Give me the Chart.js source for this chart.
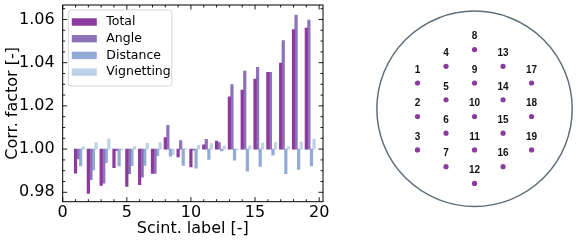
<!DOCTYPE html>
<html>
<head>
<meta charset="utf-8">
<script src="https://cdn.jsdelivr.net/npm/chart.js@4.4.1/dist/chart.umd.min.js"></script>
<style>
  html, body { margin: 0; padding: 0; background: #fff; }
  #wrap { position: relative; width: 582px; height: 244px; }
  #barBox { position: absolute; left: 0; top: 0; width: 340px; height: 244px; }
  #mapBox { position: absolute; left: 340px; top: 0; width: 242px; height: 244px; }
</style>
</head>
<body>
<div id="wrap">
  <div id="barBox"><canvas id="corrChart"></canvas></div>
  <div id="mapBox"><canvas id="mapChart"></canvas></div>
</div>
<script>
// scintillator labels 1..19
const scintLabels = [1, 2, 3, 4, 5, 6, 7, 8, 9, 10, 11, 12, 13, 14, 15, 16, 17, 18, 19];

// correction factors
const totalVals = [0.9888, 0.9795, 0.9832, 0.9914, 0.9827, 0.9835, 0.9887, 1.0053, 0.9964, 0.9918,
  1.0020, 1.0037, 1.0242, 1.0273, 1.0324, 1.0355, 1.0398, 1.0553, 1.0560];
const angleVals = [0.9955, 0.9858, 0.9842, 0.9993, 0.9886, 0.9870, 0.9887, 1.0110, 1.0039, 0.9995,
  1.0045, 1.0030, 1.0299, 1.0361, 1.0378, 1.0355, 1.0502, 1.0620, 1.0597];
const distanceVals = [0.9922, 0.9904, 0.9937, 0.9922, 0.9923, 0.9925, 0.9970, 0.9967, 0.9924, 0.9912,
  0.9952, 0.9992, 0.9949, 0.9898, 0.9920, 0.9972, 0.9886, 0.9906, 0.9922];
const vignettingVals = [1.0010, 1.0030, 1.0048, 0.9995, 1.0012, 1.0027, 1.0030, 0.9974, 1.0002, 1.0017,
  1.0026, 1.0015, 0.9997, 1.0015, 1.0029, 1.0030, 1.0012, 1.0033, 1.0046];

const seriesNames = ["Total", "Angle", "Distance", "Vignetting"];
const xTickVals = [0, 5, 10, 15, 20];
const yTickVals = [0.98, 1.00, 1.02, 1.04, 1.06];

// position of each scintillator on the sensor (column, row)
const scintCol = [-2, -2, -2, -1, -1, -1, -1, 0, 0, 0, 0, 0, 1, 1, 1, 1, 2, 2, 2];
const scintRow = [2, 0, -2, 3, 1, -1, -3, 4, 2, 0, -2, -4, 3, 1, -1, -3, 2, 0, -2];

const barColors = ["#8c3a9d", "#8d74b8", "#93aad6", "#bfd1e8"];
const barShift = 0.2; // each series shifted by one bar width

Chart.defaults.font.family = "'DejaVu Sans', sans-serif";
Chart.defaults.font.size = 16;
Chart.defaults.color = "#000";

let makeSeries = (vals, k) => {
  return vals.map((v, i) => ({ x: scintLabels[i] + k * barShift, y: v }));
};

// ticks pointing inwards on all four sides + frame
const innerTicks = {
  id: "innerTicks",
  afterDraw(chart) {
    const ctx = chart.ctx;
    const a = chart.chartArea;
    const xs = chart.scales.x;
    const ys = chart.scales.y;
    ctx.save();
    ctx.strokeStyle = "#000";
    ctx.lineWidth = 0.9;
    let line = (x1, y1, x2, y2) => {
      ctx.beginPath();
      ctx.moveTo(x1, y1);
      ctx.lineTo(x2, y2);
      ctx.stroke();
    };
    for (let v = 0; v <= xs.max + 1e-9; v += 1) {
      const p = xs.getPixelForValue(v);
      const len = v % 5 === 0 ? 4.5 : 2.5;
      line(p, a.bottom, p, a.bottom - len);
      line(p, a.top, p, a.top + len);
    }
    for (let k = Math.ceil(ys.min / 0.005); k * 0.005 <= ys.max; k++) {
      const p = ys.getPixelForValue(k * 0.005);
      const len = k % 4 === 0 ? 4.5 : 2.5;
      line(a.left, p, a.left + len, p);
      line(a.right, p, a.right - len, p);
    }
    ctx.lineWidth = 1;
    ctx.strokeRect(a.left, a.top, a.width, a.height);
    ctx.restore();
  },
};

// matplotlib style legend box in the upper left corner
const boxLegend = {
  id: "boxLegend",
  afterDatasetsDraw(chart) {
    const ctx = chart.ctx;
    const a = chart.chartArea;
    const x0 = a.left + 5.6;
    const y0 = a.top + 5;
    const rowH = 16.7;
    ctx.save();
    ctx.beginPath();
    ctx.roundRect(x0, y0, 103.5, 76, 3);
    ctx.fillStyle = "rgba(255,255,255,0.8)";
    ctx.fill();
    ctx.strokeStyle = "#d4d4d4";
    ctx.lineWidth = 1;
    ctx.stroke();
    ctx.font = "12.5px 'DejaVu Sans'";
    ctx.textBaseline = "middle";
    chart.data.datasets.forEach((ds, i) => {
      const cy = y0 + 12 + i * rowH;
      ctx.fillStyle = ds.backgroundColor;
      ctx.fillRect(x0 + 3.5, cy - 3.7, 25, 7.4);
      ctx.fillStyle = "#000";
      ctx.fillText(ds.label, x0 + 38, cy);
    });
    ctx.restore();
  },
};

let corrChart = () => {
  const allVals = [totalVals, angleVals, distanceVals, vignettingVals];
  new Chart("corrChart", {
    type: "bar",
    data: {
      datasets: allVals.map((vals, k) => ({
        label: seriesNames[k],
        data: makeSeries(vals, k),
        backgroundColor: barColors[k],
        borderWidth: 0,
        base: 1,
        grouped: false,
        barPercentage: 1,
        categoryPercentage: 1,
      })),
    },
    options: {
      responsive: true,
      maintainAspectRatio: false,
      animation: false,
      layout: { padding: { top: 5, right: 17, left: 0, bottom: 0 } },
      plugins: { legend: { display: false }, tooltip: { enabled: false } },
      scales: {
        x: {
          type: "linear",
          min: 0,
          max: 20.3,
          offset: false,
          grid: { display: false, drawTicks: false },
          border: { display: false },
          afterBuildTicks: (scale) => {
            scale.ticks = xTickVals.map((v) => ({ value: v }));
          },
          afterFit: (scale) => {
            scale.height = 42.3;
            scale.paddingLeft = 0;
            scale.paddingRight = 0;
          },
          ticks: { padding: 2, maxRotation: 0, callback: (v) => String(v) },
          title: { display: true, text: "Scint. label [-]", padding: { top: 0, bottom: 6 } },
        },
        y: {
          min: 0.97565,
          max: 1.0667,
          grid: { display: false, drawTicks: false },
          border: { display: false },
          afterBuildTicks: (scale) => {
            scale.ticks = yTickVals.map((v) => ({ value: v }));
          },
          afterFit: (scale) => {
            scale.width = 62.7;
            scale.paddingTop = 0;
            scale.paddingBottom = 0;
          },
          ticks: { padding: 8, callback: (v) => v.toFixed(2) },
          title: { display: true, text: "Corr. factor [-]", padding: { top: 3.5, bottom: 0 } },
        },
      },
    },
    plugins: [innerTicks, boxLegend],
  });
};

// sensor ring and scintillator numbers
const sensorRing = {
  id: "sensorRing",
  beforeDatasetsDraw(chart) {
    const ctx = chart.ctx;
    const xs = chart.scales.x;
    const ys = chart.scales.y;
    const cx = xs.getPixelForValue(0);
    const cy = ys.getPixelForValue(0.462);
    const r = xs.getPixelForValue(3.424) - cx;
    ctx.save();
    ctx.beginPath();
    ctx.arc(cx, cy, r, 0, Math.PI * 2);
    ctx.strokeStyle = "#5f6d7c";
    ctx.lineWidth = 1.5;
    ctx.stroke();
    ctx.restore();
  },
  afterDatasetsDraw(chart) {
    const ctx = chart.ctx;
    const xs = chart.scales.x;
    const ys = chart.scales.y;
    ctx.save();
    ctx.font = "bold 10px 'Liberation Sans'";
    ctx.fillStyle = "#111";
    ctx.textAlign = "center";
    ctx.textBaseline = "middle";
    scintLabels.forEach((lab, i) => {
      const px = xs.getPixelForValue(scintCol[i]);
      const py = ys.getPixelForValue(scintRow[i]);
      ctx.fillText(String(lab), px, py - 13);
    });
    ctx.restore();
  },
};

let mapChart = () => {
  new Chart("mapChart", {
    type: "scatter",
    data: {
      datasets: [
        {
          data: scintLabels.map((lab, i) => ({ x: scintCol[i], y: scintRow[i] })),
          backgroundColor: "#8c3a9d",
          borderWidth: 0,
          pointRadius: 2.6,
        },
      ],
    },
    options: {
      responsive: true,
      maintainAspectRatio: false,
      animation: false,
      layout: { padding: 0 },
      plugins: { legend: { display: false }, tooltip: { enabled: false } },
      scales: {
        x: { display: false, min: -4.576, max: 3.627 },
        y: { display: false, min: -7.382, max: 6.723 },
      },
    },
    plugins: [sensorRing],
  });
};

corrChart();
mapChart();
</script>
</body>
</html>
